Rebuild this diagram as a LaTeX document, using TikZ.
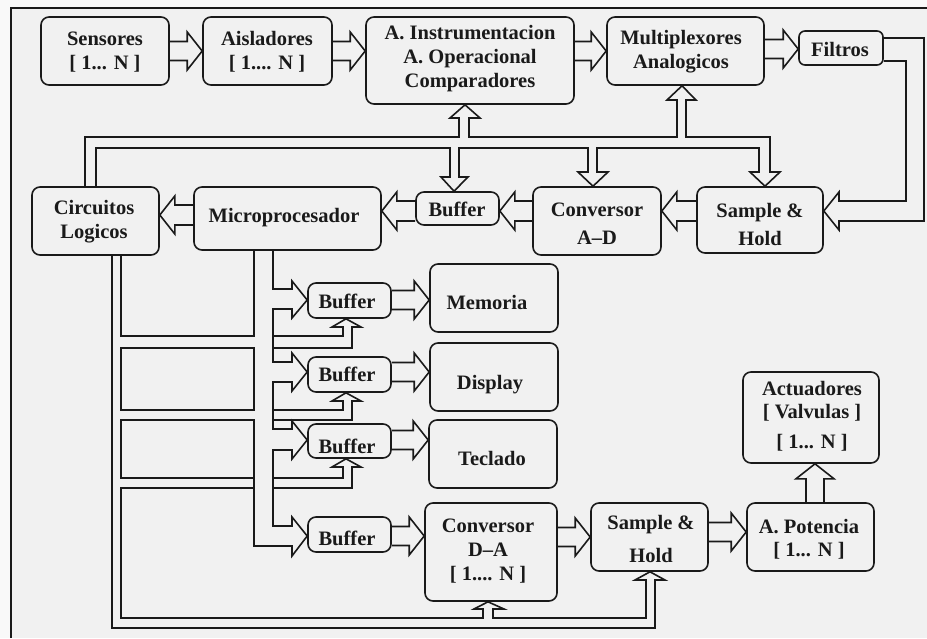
\documentclass[tikz,border=0pt]{standalone}
\usepackage{fontspec}
\setmainfont{Liberation Serif}
\usetikzlibrary{calc}
\definecolor{ink}{HTML}{1A1A1A}
\definecolor{paper}{HTML}{F1F1F1}
\tikzset{
  bus/.style={draw=ink, line width=1.6pt, line join=miter},
  box/.style={draw=ink, line width=1.6pt, rounded corners=8pt, inner sep=0pt},
  txt/.style={font=\fontsize{20.5}{24}\selectfont\bfseries, align=center, inner sep=0pt, text=ink},
}
% hollow bus arrows between named nodes
\newcommand\ArrR[3]{\draw[bus] ($(#1.east|-0,#3)+(0,-9.5)$) -- ($(#2.west|-0,#3)+(-15,-9.5)$) -- ++(0,-9.5) -- (#2.west|-0,#3) -- ++(-15,19) -- ++(0,-9.5) -- ($(#1.east|-0,#3)+(0,9.5)$);}
\newcommand\ArrL[3]{\draw[bus] ($(#1.west|-0,#3)+(0,-10)$) -- ($(#2.east|-0,#3)+(15,-10)$) -- ++(0,-9) -- (#2.east|-0,#3) -- ++(15,19) -- ++(0,-9) -- ($(#1.west|-0,#3)+(0,10)$);}
\newcommand\ArrU[3]{\draw[bus] ($(#1.north-|#3,0)+(-9,0)$) -- ($(#2.south-|#3,0)+(-9,15)$) -- ++(-10,0) -- (#2.south-|#3,0) -- ++(19,15) -- ++(-10,0) -- ($(#1.north-|#3,0)+(9,0)$);}
\begin{document}
\begin{tikzpicture}[x=1pt,y=-1pt]
\useasboundingbox (0,0) rectangle (927,638);
\fill[white!60!paper] (0,0) rectangle (927,638);
\fill[paper] (11,8) rectangle (927,638);
\draw[bus] (11,638) -- (11,8) -- (927,8);

% ---- boxes ----
\node[box, minimum width=128pt, minimum height=68pt] (sens)  at (105,51) {};
\node[box, minimum width=129pt, minimum height=68pt] (aisl)  at (267.5,51) {};
\node[box, minimum width=208pt, minimum height=87pt] (inst)  at (470,60.5) {};
\node[box, minimum width=157pt, minimum height=68pt] (mux)   at (685.5,51) {};
\node[box, rounded corners=6pt, minimum width=84pt, minimum height=34pt] (filt) at (841,48) {};
\node[box, minimum width=126pt, minimum height=66pt] (sh1)   at (760,220) {};
\node[box, minimum width=128pt, minimum height=68pt] (adc)   at (597,221) {};
\node[box, minimum width=83pt,  minimum height=33pt] (buf0)  at (457.5,208.5) {};
\node[box, minimum width=187pt, minimum height=63pt] (micro) at (287.5,218.5) {};
\node[box, minimum width=127pt, minimum height=68pt] (circ)  at (95.5,221) {};
\node[box, minimum width=83pt,  minimum height=35pt] (buf1)  at (349.5,300.5) {};
\node[box, minimum width=128pt, minimum height=68pt] (mem)   at (494,298) {};
\node[box, minimum width=83pt,  minimum height=35pt] (buf2)  at (349.5,374.5) {};
\node[box, minimum width=128pt, minimum height=68pt] (disp)  at (494,377) {};
\node[box, minimum width=83pt,  minimum height=34pt] (buf3)  at (349.5,441) {};
\node[box, minimum width=128pt, minimum height=68pt] (tecl)  at (493,454) {};
\node[box, minimum width=83pt,  minimum height=35pt] (buf4)  at (349.5,534.5) {};
\node[box, minimum width=132pt, minimum height=98pt] (dac)   at (491,552) {};
\node[box, minimum width=117pt, minimum height=68pt] (sh2)   at (649.5,537) {};
\node[box, minimum width=127pt, minimum height=68pt] (apot)  at (810.5,537) {};
\node[box, minimum width=136pt, minimum height=91pt] (act)   at (811,417.5) {};

% ---- texts ----
\node[txt] (tsens)  at (105,52)  {Sensores\\{[} 1... N ]};
\node[txt] (taisl)  at (267,52)  {Aisladores\\{[} 1.... N ]};
\node[txt] (tinst)  at (470,59)  {A. Instrumentacion\\A. Operacional\\Comparadores};
\node[txt] (tmux)   at (681,52)  {Multiplexores\\Analogicos};
\node[txt] (tfilt)  at (840,49)  {Filtros};
\node[txt] (tsh1)   at (760,224) {Sample \&\\[4pt]Hold};
\node[txt] (tadc)   at (597,224) {Conversor\\[4pt]A–D};
\node[txt] (tbuf0)  at (457,209) {Buffer};
\node[txt] (tmicro) at (284,218) {Microprocesador};
\node[txt] (tcirc)  at (94,222)  {Circuitos\\Logicos};
\node[txt] (tbuf1)  at (347,301) {Buffer};
\node[txt] (tmem)   at (487,302) {Memoria};
\node[txt] (tbuf2)  at (347,374) {Buffer};
\node[txt] (tdisp)  at (490,385) {Display};
\node[txt] (tbuf3)  at (347,446) {Buffer};
\node[txt] (ttecl)  at (492,458) {Teclado};
\node[txt] (tbuf4)  at (347,538) {Buffer};
\node[txt] (tdac)   at (488,551) {Conversor\\D–A\\{[} 1.... N ]};
\node[txt] (tsh2)   at (651,539) {Sample \&\\[9pt]Hold};
\node[txt] (tapot)  at (809,539) {A. Potencia\\[-1pt]{[} 1... N ]};
\node[txt] (tact)   at (812,416) {Actuadores\\[-1pt]{[} Valvulas ]\\[6pt]{[} 1... N ]};

% ---- top row arrows ----
\ArrR{sens}{aisl}{51}
\ArrR{aisl}{inst}{51}
\ArrR{inst}{mux}{51}
\ArrR{mux}{filt}{49}
% ---- middle row arrows ----
\ArrL{sh1}{adc}{211}
\ArrL{adc}{buf0}{211}
\ArrL{buf0}{micro}{211}
\ArrL{micro}{circ}{215}
% ---- lower arrows ----
\ArrR{buf1}{mem}{300}
\ArrR{buf2}{disp}{372}
\ArrR{buf3}{tecl}{440}
\ArrR{buf4}{dac}{536}
\ArrR{dac}{sh2}{537}
\ArrR{sh2}{apot}{532}
\ArrU{apot}{act}{815}

% ---- Filtros feedback to Sample & Hold ----
\draw[bus] (filt.east|-0,38) -- (924,38) |- (839,221) -- (839,230) -- (sh1.east|-0,211)
  -- (839,192) -- (839,201) -- (906,201) |- (filt.east|-0,61);

% ---- upper control bus ----
\draw[bus] (circ.north-|85,0) |- (459,137) -- (459,118) -- (450,118) -- (inst.south-|465,0)
  -- (480,118) -- (469,118) -- (469,137) -- (677,137) -- (677,100) -- (667,100)
  -- (mux.south-|682,0) -- (696,100) -- (686,100) -- (686,137) -- (770,137) -- (770,172)
  -- (780,172) -- (sh1.north-|765,0) -- (750,172) -- (759,172) |- (597,148) -- (597,172)
  -- (608,172) -- (adc.north-|593,0) -- (578,172) -- (588,172) |- (459,148) -- (459,177)
  -- (468,177) -- (buf0.north-|454,0) -- (441,177) -- (450,177) |- (96,148) -- (circ.north-|96,0);

% ---- lower buses ----
\draw[bus] (circ.south-|121,0) |- (254,336) -- (micro.south-|254,0);
\draw[bus] (121,348) rectangle (254,410);
\draw[bus] (254,478) -- (121,478) |- (254,420) -- (254,546) -- (292,546) -- (292,556)
  -- (buf4.west|-0,536) -- (292,517) -- (292,526) -- (273,526) -- (273,450) -- (292,450)
  -- (292,459) -- (buf3.west|-0,440) -- (292,421) -- (292,429) -- (273,429) -- (273,382)
  -- (292,382) -- (292,391) -- (buf2.west|-0,372) -- (292,353) -- (292,362) -- (273,362)
  -- (273,309) -- (292,309) -- (292,318) -- (buf1.west|-0,300) -- (292,281) -- (292,289)
  -- (273,289) -- (micro.south-|273,0);
\draw[bus] (circ.south-|112,0) |- (655,628) -- (655,580) -- (665,580) -- (sh2.south-|650,0)
  -- (635,580) -- (646,580) |- (493,618) -- (493,609) -- (504,609) -- (dac.south-|488,0)
  -- (474,609) -- (483,609) |- (121,618) -- (121,488) -- (254,488);
% control inputs of the buffers
\draw[bus] (273,336) -- (343,336) -- (343,327) -- (332,327) -- (buf1.south-|346,0)
  -- (361,327) -- (352,327) -- (352,348) -- (273,348);
\draw[bus] (273,410) -- (343,410) -- (343,401) -- (332,401) -- (buf2.south-|346,0)
  -- (361,401) -- (352,401) -- (352,420) -- (273,420);
\draw[bus] (273,478) -- (343,478) -- (343,467) -- (332,467) -- (buf3.south-|346,0)
  -- (361,467) -- (352,467) -- (352,488) -- (273,488);
\end{tikzpicture}
\end{document}
